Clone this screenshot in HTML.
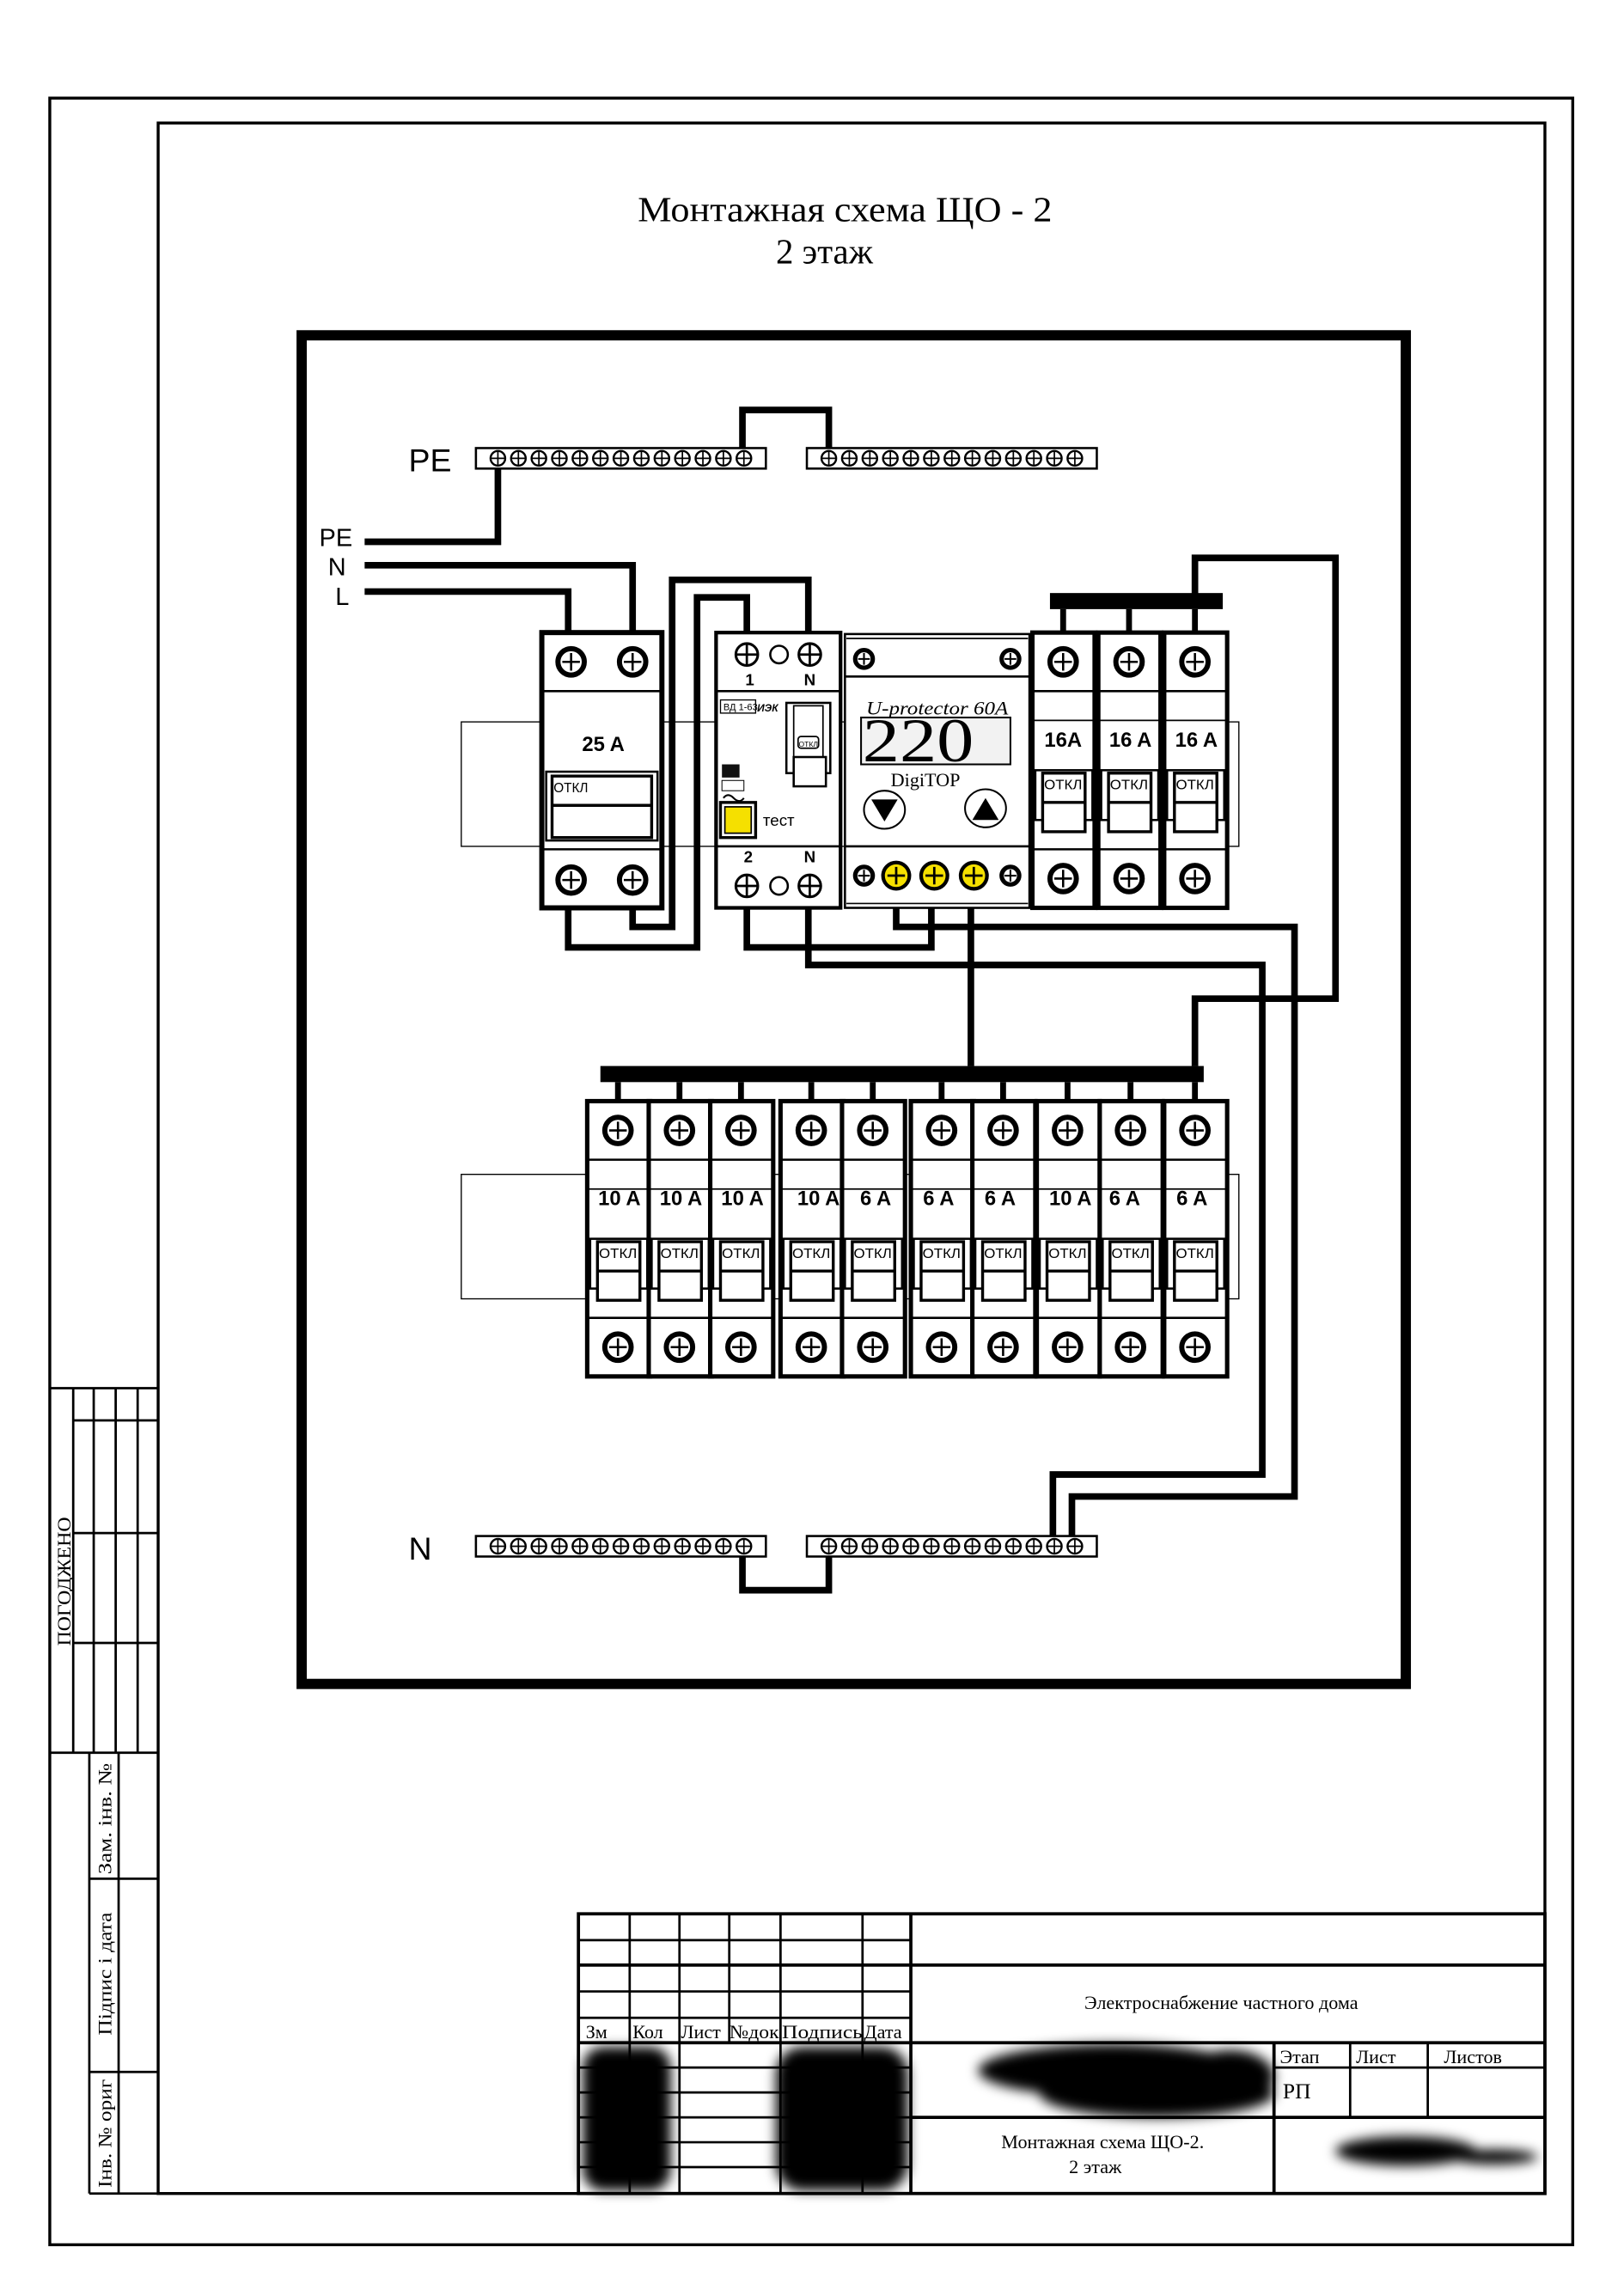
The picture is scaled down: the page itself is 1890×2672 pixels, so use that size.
<!DOCTYPE html>
<html><head><meta charset="utf-8"><style>
html,body{margin:0;padding:0;background:#fff}
svg{display:block}
</style></head><body>
<svg width="1890" height="2672" viewBox="0 0 1109 1568" preserveAspectRatio="none" xmlns="http://www.w3.org/2000/svg" font-family="Liberation Sans, sans-serif">
<defs>
<g id="t"><circle r="9" fill="#fff" stroke="#000" stroke-width="3.5"/><path d="M-6 0H6M0 -6V6" stroke="#000" stroke-width="1.5"/></g>
<g id="bt"><circle r="5" fill="#fff" stroke="#000" stroke-width="1.4"/><path d="M-5 0H5M0 -5V5" stroke="#000" stroke-width="1"/></g>
<g id="ts"><circle r="7.5" fill="#fff" stroke="#000" stroke-width="1.8"/><path d="M-7.5 0H7.5M0 -7.5V7.5" stroke="#000" stroke-width="1.6"/></g>
<g id="yt"><circle r="9" fill="#f5e000" stroke="#000" stroke-width="2.5"/><path d="M-6 0H6M0 -6V6" stroke="#000" stroke-width="1.6"/></g>
<g id="sm"><circle r="6" fill="#fff" stroke="#000" stroke-width="3"/><path d="M-4 0H4M0 -4V4" stroke="#000" stroke-width="1.2"/></g>
<g id="m">
<rect x="0" y="0" width="43" height="188" fill="#fff" stroke="#000" stroke-width="3"/>
<line x1="0" y1="40" x2="43" y2="40" stroke="#000" stroke-width="1.5"/>
<line x1="0" y1="60" x2="43" y2="60" stroke="#000" stroke-width="1"/>
<line x1="0" y1="148" x2="43" y2="148" stroke="#000" stroke-width="1.5"/>
<rect x="2" y="94" width="39" height="34" fill="none" stroke="#000" stroke-width="1.5"/>
<rect x="7" y="96" width="29" height="40" fill="#fff" stroke="#000" stroke-width="2"/>
<line x1="7" y1="116" x2="36" y2="116" stroke="#000" stroke-width="2"/>
<text x="21" y="107" font-size="9" text-anchor="middle" textLength="26" lengthAdjust="spacingAndGlyphs">ОТКЛ</text>
<use href="#t" x="21" y="20"/><use href="#t" x="21" y="168"/>
</g>
<filter id="bl"><feGaussianBlur stdDeviation="4"/></filter>
</defs>

<rect x="34" y="67" width="1040" height="1466" fill="none" stroke="#000" stroke-width="2"/>
<rect x="108" y="84" width="947" height="1414" fill="none" stroke="#000" stroke-width="2"/>
<g stroke="#000" stroke-width="1.6" fill="none">
<line x1="34" y1="948" x2="108" y2="948"/>
<line x1="50" y1="948" x2="50" y2="1197"/>
<line x1="64" y1="948" x2="64" y2="1197"/>
<line x1="79" y1="948" x2="79" y2="1197"/>
<line x1="94" y1="948" x2="94" y2="1197"/>
<line x1="50" y1="970" x2="108" y2="970"/>
<line x1="50" y1="1047" x2="108" y2="1047"/>
<line x1="50" y1="1122" x2="108" y2="1122"/>
<line x1="34" y1="1197" x2="108" y2="1197"/>
<line x1="61" y1="1197" x2="61" y2="1498"/>
<line x1="81" y1="1197" x2="81" y2="1498"/>
<line x1="61" y1="1283" x2="108" y2="1283"/>
<line x1="61" y1="1415" x2="108" y2="1415"/>
<line x1="61" y1="1498" x2="108" y2="1498"/>
</g>
<g font-family="Liberation Serif, serif" font-size="13">
<text transform="translate(48,1124) rotate(-90)" textLength="88" lengthAdjust="spacingAndGlyphs">ПОГОДЖЕНО</text>
<text transform="translate(76,1280) rotate(-90)" textLength="76" lengthAdjust="spacingAndGlyphs">Зам. інв. №</text>
<text transform="translate(76,1390) rotate(-90)" textLength="84" lengthAdjust="spacingAndGlyphs">Підпис і дата</text>
<text transform="translate(76,1494) rotate(-90)" textLength="74" lengthAdjust="spacingAndGlyphs">Інв. № ориг</text>
</g>

<g font-family="Liberation Serif, serif" font-size="24" text-anchor="middle">
<text x="577" y="151" textLength="283" lengthAdjust="spacingAndGlyphs">Монтажная схема ЩО - 2</text>
<text x="563" y="180">2 этаж</text>
</g>

<rect x="206" y="229" width="754" height="921" fill="none" stroke="#000" stroke-width="7"/>

<rect x="315" y="493" width="531" height="85" fill="none" stroke="#000" stroke-width="0.8"/>
<rect x="315" y="802" width="531" height="85" fill="none" stroke="#000" stroke-width="0.8"/>

<g fill="none" stroke="#000" stroke-width="4.5" stroke-linejoin="miter">
<polyline points="507,306 507,280 566,280 566,306"/>
<polyline points="340,320 340,370 249,370"/>
<polyline points="249,386 432,386 432,432"/>
<polyline points="249,404 388,404 388,432"/>
<polyline points="432,620 432,633 459,633 459,396 552,396 552,432"/>
<polyline points="388,620 388,647 476,647 476,408 510,408 510,432"/>
<polyline points="510,620 510,647 636,647 636,620"/>
<polyline points="552,620 552,659 862,659 862,1007 719,1007 719,1049"/>
<polyline points="612,620 612,633 884,633 884,1022 732,1022 732,1049"/>
<polyline points="663,620 663,728"/>
<polyline points="816,410 816,381 912,381 912,682 816,682 816,728"/>
<polyline points="507,1063 507,1086 566,1086 566,1063"/>
</g>

<text x="279" y="322" font-size="22">PE</text>
<rect x="325" y="306" width="198" height="14" fill="#fff" stroke="#000" stroke-width="1.5"/>
<rect x="551" y="306" width="198" height="14" fill="#fff" stroke="#000" stroke-width="1.5"/>
<g>
<use href="#bt" x="340" y="313"/><use href="#bt" x="354" y="313"/><use href="#bt" x="368" y="313"/><use href="#bt" x="382" y="313"/><use href="#bt" x="396" y="313"/><use href="#bt" x="410" y="313"/><use href="#bt" x="424" y="313"/><use href="#bt" x="438" y="313"/><use href="#bt" x="452" y="313"/><use href="#bt" x="466" y="313"/><use href="#bt" x="480" y="313"/><use href="#bt" x="494" y="313"/><use href="#bt" x="508" y="313"/>
<use href="#bt" x="566" y="313"/><use href="#bt" x="580" y="313"/><use href="#bt" x="594" y="313"/><use href="#bt" x="608" y="313"/><use href="#bt" x="622" y="313"/><use href="#bt" x="636" y="313"/><use href="#bt" x="650" y="313"/><use href="#bt" x="664" y="313"/><use href="#bt" x="678" y="313"/><use href="#bt" x="692" y="313"/><use href="#bt" x="706" y="313"/><use href="#bt" x="720" y="313"/><use href="#bt" x="734" y="313"/>
</g>
<text x="218" y="373" font-size="17">PE</text>
<text x="224" y="393" font-size="17">N</text>
<text x="229" y="413" font-size="17">L</text>

<text x="279" y="1065" font-size="22">N</text>
<rect x="325" y="1049" width="198" height="14" fill="#fff" stroke="#000" stroke-width="1.5"/>
<rect x="551" y="1049" width="198" height="14" fill="#fff" stroke="#000" stroke-width="1.5"/>
<g>
<use href="#bt" x="340" y="1056"/><use href="#bt" x="354" y="1056"/><use href="#bt" x="368" y="1056"/><use href="#bt" x="382" y="1056"/><use href="#bt" x="396" y="1056"/><use href="#bt" x="410" y="1056"/><use href="#bt" x="424" y="1056"/><use href="#bt" x="438" y="1056"/><use href="#bt" x="452" y="1056"/><use href="#bt" x="466" y="1056"/><use href="#bt" x="480" y="1056"/><use href="#bt" x="494" y="1056"/><use href="#bt" x="508" y="1056"/>
<use href="#bt" x="566" y="1056"/><use href="#bt" x="580" y="1056"/><use href="#bt" x="594" y="1056"/><use href="#bt" x="608" y="1056"/><use href="#bt" x="622" y="1056"/><use href="#bt" x="636" y="1056"/><use href="#bt" x="650" y="1056"/><use href="#bt" x="664" y="1056"/><use href="#bt" x="678" y="1056"/><use href="#bt" x="692" y="1056"/><use href="#bt" x="706" y="1056"/><use href="#bt" x="720" y="1056"/><use href="#bt" x="734" y="1056"/>
</g>

<g>
<rect x="370" y="432" width="82" height="188" fill="#fff" stroke="#000" stroke-width="3.5"/>
<line x1="370" y1="472" x2="452" y2="472" stroke="#000" stroke-width="1.5"/>
<line x1="370" y1="580" x2="452" y2="580" stroke="#000" stroke-width="1.5"/>
<rect x="373" y="527" width="76" height="47" fill="none" stroke="#000" stroke-width="1.5"/>
<rect x="377" y="530" width="68" height="42" fill="#fff" stroke="#000" stroke-width="2"/>
<line x1="377" y1="550" x2="445" y2="550" stroke="#000" stroke-width="2"/>
<text x="378" y="541" font-size="9">ОТКЛ</text>
<text x="412" y="513" font-size="14" font-weight="bold" text-anchor="middle">25 A</text>
<use href="#t" x="390" y="452"/><use href="#t" x="432" y="452"/>
<use href="#t" x="390" y="601"/><use href="#t" x="432" y="601"/>
</g>

<g>
<rect x="489" y="432" width="85" height="188" fill="#fff" stroke="#000" stroke-width="2.5"/>
<line x1="489" y1="472" x2="574" y2="472" stroke="#000" stroke-width="1.5"/>
<line x1="489" y1="578" x2="574" y2="578" stroke="#000" stroke-width="1.5"/>
<use href="#ts" x="510" y="447"/><circle cx="532" cy="447" r="6" fill="#fff" stroke="#000" stroke-width="1.5"/><use href="#ts" x="553" y="447"/>
<text x="512" y="468" font-size="11" font-weight="bold" text-anchor="middle">1</text>
<text x="553" y="468" font-size="11" font-weight="bold" text-anchor="middle">N</text>
<rect x="492" y="478" width="24" height="9" fill="#fff" stroke="#000" stroke-width="0.8"/>
<text x="494" y="485" font-size="6.5">ВД 1-63</text>
<text x="517" y="486" font-size="7" font-style="italic" font-weight="bold">ИЭК</text>
<rect x="537" y="480" width="30" height="48" fill="#fff" stroke="#000" stroke-width="1.5"/>
<rect x="542" y="482" width="20" height="44" fill="none" stroke="#000" stroke-width="1"/>
<rect x="545" y="503" width="14" height="8" rx="2" fill="#fff" stroke="#000" stroke-width="1"/>
<text x="552" y="510" font-size="5" text-anchor="middle">ОТКЛ</text>
<rect x="542" y="517" width="22" height="20" fill="#fff" stroke="#000" stroke-width="1.5"/>
<rect x="493" y="522" width="12" height="9" fill="#111"/>
<rect x="493" y="533" width="15" height="7" fill="#fff" stroke="#000" stroke-width="0.6"/>
<path d="M494 545q3 -4 7 0t7 0" fill="none" stroke="#000" stroke-width="1.2"/>
<rect x="492" y="548" width="24" height="24" fill="#fff" stroke="#000" stroke-width="2"/>
<rect x="495" y="551" width="18" height="18" fill="#f5e000" stroke="#000" stroke-width="1"/>
<text x="521" y="564" font-size="11">тест</text>
<text x="511" y="589" font-size="11" font-weight="bold" text-anchor="middle">2</text>
<text x="553" y="589" font-size="11" font-weight="bold" text-anchor="middle">N</text>
<use href="#ts" x="510" y="605"/><circle cx="532" cy="605" r="6" fill="#fff" stroke="#000" stroke-width="1.5"/><use href="#ts" x="553" y="605"/>
</g>

<g>
<rect x="577" y="433" width="126" height="187" fill="#fff" stroke="#000" stroke-width="1.5"/>
<line x1="578" y1="436" x2="702" y2="436" stroke="#000" stroke-width="1"/>
<line x1="578" y1="617" x2="702" y2="617" stroke="#000" stroke-width="1"/>
<line x1="577" y1="462" x2="703" y2="462" stroke="#000" stroke-width="1.5"/>
<line x1="577" y1="578" x2="703" y2="578" stroke="#000" stroke-width="1.5"/>
<use href="#sm" x="590" y="450"/><use href="#sm" x="690" y="450"/>
<text x="640" y="488" font-family="Liberation Serif, serif" font-style="italic" font-size="13" text-anchor="middle" textLength="97" lengthAdjust="spacingAndGlyphs">U-protector 60A</text>
<rect x="588" y="490" width="102" height="32" fill="#f2f2f2" stroke="#000" stroke-width="1.2"/>
<text x="627" y="520" font-family="Liberation Serif, serif" font-size="42" text-anchor="middle" textLength="76" lengthAdjust="spacingAndGlyphs">220</text>
<text x="632" y="537" font-family="Liberation Serif, serif" font-size="13" text-anchor="middle">DigiTOP</text>
<ellipse cx="604" cy="553" rx="14" ry="13" fill="#fff" stroke="#000" stroke-width="1.2"/>
<path d="M595 546H613L604 561Z" fill="#000"/>
<ellipse cx="673" cy="552" rx="14" ry="13" fill="#fff" stroke="#000" stroke-width="1.2"/>
<path d="M664 560H682L673 545Z" fill="#000"/>
<use href="#sm" x="590" y="598"/><use href="#yt" x="612" y="598"/><use href="#yt" x="638" y="598"/><use href="#yt" x="665" y="598"/><use href="#sm" x="690" y="598"/>
</g>

<rect x="717" y="405" width="118" height="11" fill="#000"/>
<g stroke="#000" stroke-width="4"><line x1="726" y1="416" x2="726" y2="432"/><line x1="771" y1="416" x2="771" y2="432"/><line x1="816" y1="416" x2="816" y2="432"/></g>
<use href="#m" x="705" y="432"/><use href="#m" x="750" y="432"/><use href="#m" x="795" y="432"/>
<rect x="746" y="432" width="3" height="188" fill="#000"/><rect x="791" y="432" width="4" height="188" fill="#000"/>
<g font-size="14" font-weight="bold" text-anchor="middle">
<text x="726" y="510">16A</text><text x="772" y="510">16 A</text><text x="817" y="510">16 A</text>
</g>

<rect x="410" y="728" width="412" height="11" fill="#000"/>
<g stroke="#000" stroke-width="4">
<line x1="422" y1="739" x2="422" y2="752"/><line x1="464" y1="739" x2="464" y2="752"/><line x1="506" y1="739" x2="506" y2="752"/>
<line x1="554" y1="739" x2="554" y2="752"/><line x1="596" y1="739" x2="596" y2="752"/>
<line x1="643" y1="739" x2="643" y2="752"/><line x1="685" y1="739" x2="685" y2="752"/>
<line x1="729" y1="739" x2="729" y2="752"/><line x1="772" y1="739" x2="772" y2="752"/><line x1="816" y1="739" x2="816" y2="752"/>
</g>
<use href="#m" x="401" y="752"/><use href="#m" x="443" y="752"/><use href="#m" x="485" y="752"/>
<use href="#m" x="533" y="752"/><use href="#m" x="575" y="752"/>
<use href="#m" x="622" y="752"/><use href="#m" x="664" y="752"/>
<use href="#m" x="708" y="752"/><use href="#m" x="751" y="752"/><use href="#m" x="795" y="752"/>
<g font-size="14" font-weight="bold" text-anchor="middle">
<text x="423" y="823">10 A</text><text x="465" y="823">10 A</text><text x="507" y="823">10 A</text>
<text x="559" y="823">10 A</text><text x="598" y="823">6 A</text>
<text x="641" y="823">6 A</text><text x="683" y="823">6 A</text>
<text x="731" y="823">10 A</text><text x="768" y="823">6 A</text><text x="814" y="823">6 A</text>
</g>

<g stroke="#000" fill="none">
<rect x="395" y="1307" width="660" height="191" stroke-width="2.2"/>
<g stroke-width="1.6">
<line x1="430" y1="1307" x2="430" y2="1498"/><line x1="464" y1="1307" x2="464" y2="1498"/>
<line x1="498" y1="1307" x2="498" y2="1395"/><line x1="533" y1="1307" x2="533" y2="1498"/>
<line x1="589" y1="1307" x2="589" y2="1498"/>
<line x1="395" y1="1325" x2="622" y2="1325"/><line x1="395" y1="1360" x2="622" y2="1360"/>
<line x1="395" y1="1378" x2="622" y2="1378"/>
<line x1="395" y1="1412" x2="622" y2="1412"/><line x1="395" y1="1429" x2="622" y2="1429"/>
<line x1="395" y1="1446" x2="622" y2="1446"/><line x1="395" y1="1463" x2="622" y2="1463"/>
<line x1="395" y1="1480" x2="622" y2="1480"/>
<line x1="870" y1="1412" x2="1055" y2="1412"/>
<line x1="922" y1="1395" x2="922" y2="1446"/><line x1="975" y1="1395" x2="975" y2="1446"/>
</g>
<g stroke-width="2.2">
<line x1="622" y1="1307" x2="622" y2="1498"/>
<line x1="395" y1="1342" x2="1055" y2="1342"/>
<line x1="395" y1="1395" x2="1055" y2="1395"/>
<line x1="622" y1="1446" x2="1055" y2="1446"/>
<line x1="870" y1="1395" x2="870" y2="1498"/>
</g>
</g>
<g font-family="Liberation Serif, serif" font-size="13">
<text x="400" y="1392">Зм</text><text x="432" y="1392">Кол</text><text x="465" y="1392">Лист</text><text x="498" y="1392" textLength="34" lengthAdjust="spacingAndGlyphs">№док</text><text x="534" y="1392" textLength="55" lengthAdjust="spacingAndGlyphs">Подпись</text><text x="590" y="1392">Дата</text>
<text x="834" y="1372" text-anchor="middle">Электроснабжение частного дома</text>
<text x="874" y="1409">Этап</text><text x="926" y="1409">Лист</text><text x="986" y="1409">Листов</text>
<text x="876" y="1433" font-size="15">РП</text>
<text x="753" y="1467" text-anchor="middle">Монтажная  схема ЩО-2.</text>
<text x="748" y="1484" text-anchor="middle">2 этаж</text>
</g>
<g filter="url(#bl)" fill="#000">
<rect x="398" y="1398" width="60" height="98" rx="14"/>
<rect x="530" y="1398" width="90" height="98" rx="18"/>
<ellipse cx="760" cy="1414" rx="92" ry="18"/>
<ellipse cx="790" cy="1430" rx="80" ry="16"/>
<ellipse cx="840" cy="1418" rx="30" ry="18"/>
<ellipse cx="960" cy="1469" rx="48" ry="10"/>
<ellipse cx="1020" cy="1473" rx="30" ry="5"/>
</g>
</svg>
</body></html>
